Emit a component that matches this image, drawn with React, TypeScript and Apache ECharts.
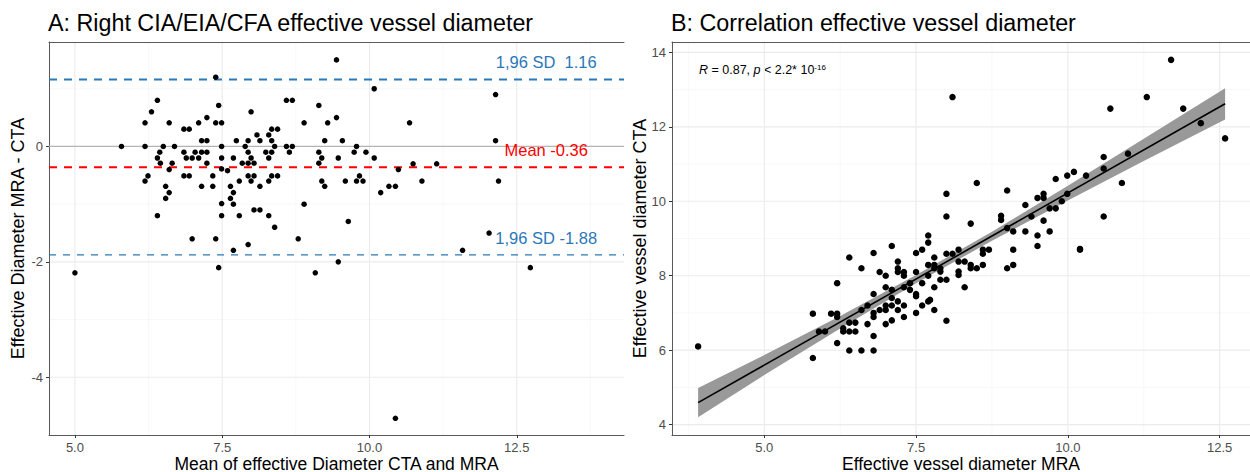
import React, { useEffect, useRef } from "react";
import * as echarts from "echarts";

// ---------- Panel A: Bland-Altman ----------
const meanVals = [
  5.79, 6.19, 6.19, 6.19, 6.24, 6.3, 6.4, 6.4, 6.44, 6.45, 6.5, 6.54, 6.54, 6.6, 6.6, 6.6, 6.65, 6.69, 6.4, 6.85,
  6.94, 6.85, 6.89, 6.85, 6.94, 6.99, 7.04, 7.1, 7.1, 7.15, 7.15, 7.15, 7.24, 7.24, 7.24, 7.24, 7.34, 7.34, 7.39, 7.39,
  7.44, 7.49, 7.49, 7.49, 7.49, 7.49, 7.49, 7.59, 7.64, 7.64, 7.69, 7.69, 7.69, 7.74, 7.79, 7.79, 7.84, 7.89, 7.94, 7.94,
  7.94, 7.94, 7.99, 7.99, 7.99, 8.04, 8.04, 8.04, 8.09, 8.14, 8.14, 8.14, 8.24, 8.29, 8.29, 8.29, 8.29, 8.34, 8.34, 8.34,
  8.34, 8.39, 8.39, 8.44, 8.44, 8.59, 8.69, 8.59, 8.69, 8.64, 8.89, 8.89, 9.14, 9.14, 9.14, 9.19, 9.19, 9.24, 9.24, 9.29,
  9.44, 9.44, 9.47, 6.99, 7.39, 8.79, 7.69, 7.94, 7.44, 5.0, 9.08, 9.47, 9.54, 10.08, 9.78, 9.74, 9.94, 10.08, 9.83, 9.78,
  9.89, 9.59, 10.19, 10.33, 10.44, 10.49, 10.68, 10.74, 10.89, 11.14, 12.14, 12.14, 12.19, 9.64, 12.03, 11.58, 12.73, 10.44,
];
const diffVals = [
  0.0, 0.0, 0.41, -0.6, -0.51, 0.6, 0.8, -0.2, -0.1, -0.29, 0.0, -0.69, -0.9, -0.8, 0.41, -0.4, -0.29, 0.0, -1.2, 0.3,
  0.3, -0.1, -0.2, -0.51, -0.51, -0.2, -0.1, 0.41, -0.2, 0.1, -0.1, -0.69, 0.1, 0.5, -0.1, -0.29, -0.51, -0.69, 0.41, 1.2,
  0.71, 0.41, 0.0, -0.2, -0.39, -0.99, -1.2, -0.42, -0.69, -0.9, -0.8, -1.0, -0.2, 0.1, -0.6, -1.2, -0.29, 0.0, 0.1, -0.1,
  -0.29, -0.51, 0.6, -0.2, -0.6, -0.29, -0.51, -1.1, 0.2, 0.1, -0.69, -1.1, -0.1, 0.2, -0.2, -0.6, -1.2, 0.3, 0.1, -0.1,
  -0.51, 0.0, -1.4, 0.3, -0.51, 0.8, 0.8, 0.0, 0.0, -0.1, 0.41, -1.0, 0.71, -0.1, -0.29, -0.2, -0.6, -0.69, 0.1, 0.41,
  0.5, 1.5, -0.2, -1.6, -1.6, -1.6, -1.8, -1.7, -2.1, -2.19, -2.19, -2.0, 0.1, 1.0, 0.0, -0.1, -0.1, -0.2, -0.51, -0.6,
  -0.6, -0.6, -0.8, -0.69, -0.69, -0.4, 0.41, -0.3, -0.6, -0.3, 0.9, 0.1, -0.6, -1.3, -1.5, -1.8, -2.1, -4.71,
];
const limitValues = [1.16, -0.36, -1.88];
const limitLabels = ["1,96 SD  1.16", "Mean -0.36", "1,96 SD -1.88"];
const aXTicks = [5, 7.5, 10, 12.5];
const aXMinor = [6.25, 8.75, 11.25, 13.75];
const aYTicks = [-4, -2, 0];
const aYMinor = [-3, -1, 1];

// ---------- Panel B: correlation ----------
const mraVals = [
  3.91, 5.8, 5.8, 5.9, 6.0, 6.1, 6.2, 6.2, 6.2, 6.2, 6.3, 6.3, 6.4, 6.4, 6.4, 6.4, 6.5, 6.5, 6.6, 6.6,
  6.6, 6.7, 6.7, 6.8, 6.8, 6.8, 6.8, 6.8, 6.8, 6.9, 6.9, 7.0, 7.0, 7.0, 7.0, 7.0, 7.1, 7.1, 7.1, 7.1,
  7.1, 7.2, 7.2, 7.2, 7.2, 7.2, 7.3, 7.3, 7.3, 7.3, 7.3, 7.4, 7.4, 7.5, 7.5, 7.5, 7.5, 7.5, 7.6, 7.6,
  7.6, 7.7, 7.7, 7.7, 7.7, 7.7, 7.8, 7.8, 7.8, 7.8, 7.8, 7.9, 7.9, 7.9, 8.0, 8.0, 8.0, 8.1, 8.2, 8.2,
  8.2, 8.2, 8.3, 8.3, 8.4, 8.4, 8.5, 8.6, 8.6, 8.6, 8.7, 9.0, 9.1, 9.1, 9.5, 10.2, 10.2, 7.73, 8.0, 8.0,
  8.1, 8.4, 8.5, 8.9, 8.9, 9.0, 9.0, 9.1, 9.3, 9.3, 9.4, 9.5, 9.5, 9.6, 9.6, 9.6, 9.7, 9.7, 9.8, 9.8,
  9.9, 9.99, 9.99, 10.1, 10.3, 10.59, 10.59, 10.59, 10.7, 10.89, 10.99, 11.3, 11.7, 11.9, 12.19, 12.59,
];
const ctaVals = [
  6.1, 6.98, 5.79, 6.5, 6.5, 6.98, 7.8, 6.98, 6.89, 6.19, 6.59, 6.5, 8.49, 6.74, 6.5, 5.99, 6.74, 6.5, 8.2, 7.08,
  5.99, 7.2, 6.7, 8.61, 7.51, 7.0, 6.89, 6.38, 5.99, 8.1, 7.08, 8.0, 7.69, 7.2, 7.08, 6.7, 8.8, 7.62, 7.4, 7.2,
  6.8, 8.38, 8.2, 8.1, 7.31, 7.08, 8.1, 8.0, 7.69, 7.2, 6.89, 7.8, 7.62, 8.61, 8.1, 7.51, 7.45, 7.0, 8.7, 7.8,
  7.2, 9.08, 8.89, 8.29, 8.0, 7.31, 8.49, 8.29, 7.69, 7.08, 8.2, 8.2, 8.11, 7.89, 8.59, 7.89, 6.79, 8.59, 8.7, 8.38,
  8.11, 8.02, 8.38, 7.69, 8.29, 8.2, 8.2, 8.7, 8.59, 8.29, 8.7, 8.2, 8.29, 8.7, 8.8, 8.7, 8.72, 7.35, 9.59, 10.2,
  12.8, 9.4, 10.49, 9.61, 9.5, 10.29, 9.28, 9.19, 9.19, 9.9, 9.59, 9.08, 10.09, 10.2, 10.09, 9.48, 9.81, 9.19, 9.81, 10.6,
  10.0, 10.69, 10.2, 10.79, 10.69, 11.19, 10.88, 9.59, 12.49, 10.49, 11.28, 12.8, 13.8, 12.49, 12.1, 11.69,
];
const fitX = [3.91, 12.59];
const fitY = [4.59, 12.62];
const bandX = [3.91, 5.0, 6.25, 7.5, 8.75, 10.0, 11.25, 12.59];
const bandLow = [4.2, 5.33, 6.58, 7.8, 8.94, 10.02, 11.08, 12.2];
const bandHigh = [4.98, 5.87, 6.92, 8.02, 9.18, 10.42, 11.68, 13.04];
const bXTicks = [5, 7.5, 10, 12.5];
const bXMinor = [3.75, 6.25, 8.75, 11.25];
const bYTicks = [4, 6, 8, 10, 12, 14];
const bYMinor = [5, 7, 9, 11, 13];

const FONT = "'Liberation Sans', Arial, Helvetica, sans-serif";
const BLUE = "#2b78b6";
const RED = "#ff0000";
const AX = { xMin: 4.56, xMax: 14.32, yMin: -5.0, yMax: 1.81 };
const BX = { xMin: 3.48, xMax: 13.0, yMin: 3.72, yMax: 14.28 };

function gridLines(xi: number, vals: number[], vertical: boolean, ext: any, color: string, width: number) {
  return {
    type: "custom",
    xAxisIndex: xi,
    yAxisIndex: xi === 0 ? 0 : 1,
    silent: true,
    z: 0,
    data: vals.map((v) => [v, v]),
    renderItem: (params: any, api: any) => {
      const v = api.value(0);
      const p1 = vertical ? api.coord([v, ext.yMin]) : api.coord([ext.xMin, v]);
      const p2 = vertical ? api.coord([v, ext.yMax]) : api.coord([ext.xMax, v]);
      return {
        type: "line",
        shape: { x1: p1[0], y1: p1[1], x2: p2[0], y2: p2[1] },
        style: { stroke: color, lineWidth: width },
      };
    },
  };
}

function hLine(v: number, color: string, width: number, type: any, z: number) {
  return {
    type: "line",
    xAxisIndex: 0,
    yAxisIndex: 0,
    silent: true,
    z,
    showSymbol: false,
    symbol: "none",
    data: [
      [AX.xMin, v],
      [AX.xMax, v],
    ],
    lineStyle: { color, width, type, opacity: 1 },
  };
}

const tickLabel = { color: "#4d4d4d", fontSize: 13, fontFamily: FONT };

function baseX(grid: number, ext: any, ticks: number[], name: string) {
  return {
    type: "value",
    gridIndex: grid,
    min: ext.xMin,
    max: ext.xMax,
    name,
    nameLocation: "middle",
    nameGap: 19.5,
    nameMoveOverlap: false,
    nameTextStyle: { color: "#000", fontSize: 17.5, fontFamily: FONT },
    axisLine: { show: true, onZero: false, lineStyle: { color: "#5a5a5a", width: 1 } },
    axisTick: { show: true, length: 3, customValues: ticks, lineStyle: { color: "#333" } },
    axisLabel: { ...tickLabel, margin: 6, customValues: ticks, formatter: (v: number) => v.toFixed(1) },
    splitLine: { show: false },
  };
}
function topX(grid: number, ext: any) {
  return {
    type: "value",
    gridIndex: grid,
    position: "top",
    min: ext.xMin,
    max: ext.xMax,
    axisLine: { show: true, onZero: false, lineStyle: { color: "#5a5a5a", width: 1 } },
    axisTick: { show: false },
    axisLabel: { show: false },
    splitLine: { show: false },
  };
}
function baseY(grid: number, ext: any, ticks: number[], name: string, gap: number) {
  return {
    type: "value",
    gridIndex: grid,
    min: ext.yMin,
    max: ext.yMax,
    name,
    nameLocation: "middle",
    nameGap: gap,
    nameRotate: 90,
    nameMoveOverlap: false,
    nameTextStyle: { color: "#000", fontSize: 18, fontFamily: FONT },
    axisLine: { show: true, onZero: false, lineStyle: { color: "#5a5a5a", width: 1 } },
    axisTick: { show: true, length: 3, customValues: ticks, lineStyle: { color: "#333" } },
    axisLabel: { ...tickLabel, margin: 6, customValues: ticks, formatter: (v: number) => String(v) },
    splitLine: { show: false },
  };
}

export default function App() {
  const ref = useRef<HTMLDivElement>(null);
  useEffect(() => {
    if (!ref.current) return;
    const chart = echarts.init(ref.current, undefined, { renderer: "svg" });
    const scatterA = meanVals.map((x, i) => [x, diffVals[i]]);
    const scatterB = mraVals.map((x, i) => [x, ctaVals[i]]);
    const limitColors = [BLUE, RED, BLUE];
    const titleStyle = { fontSize: 23.3, fontWeight: "normal", color: "#000", fontFamily: FONT };
    const option: any = {
      animation: false,
      backgroundColor: "#ffffff",
      textStyle: { fontFamily: FONT },
      title: [
        { text: "A: Right CIA/EIA/CFA effective vessel diameter", left: 48, top: 11, padding: 0, textStyle: titleStyle },
        { text: "B: Correlation effective vessel diameter", left: 671, top: 11, padding: 0, textStyle: titleStyle },
      ],
      grid: [
        { left: 49, top: 42, width: 575, height: 393, containLabel: false, outerBoundsMode: "none" },
        { left: 672, top: 42, width: 578, height: 393, containLabel: false, outerBoundsMode: "none" },
      ],
      xAxis: [
        baseX(0, AX, aXTicks, "Mean of effective Diameter CTA and MRA"),
        topX(0, AX),
        baseX(1, BX, bXTicks, "Effective vessel diameter MRA"),
        topX(1, BX),
      ],
      yAxis: [
        baseY(0, AX, aYTicks, "Effective Diameter MRA - CTA", 22),
        baseY(1, BX, bYTicks, "Effective vessel diameter CTA", 23),
      ],
      graphic: [
        {
          type: "text",
          left: 699,
          top: 63,
          style: {
            text: "{i|R} = 0.87, {i|p} < 2.2* 10{s|-16}",
            fill: "#000",
            fontFamily: FONT,
            fontSize: 12.5,
            rich: {
              i: { fontStyle: "italic", fontSize: 12.5, fontFamily: FONT, fill: "#000" },
              s: { fontSize: 8, fontFamily: FONT, fill: "#000", verticalAlign: "top", padding: [0, 0, 6, 0] },
            },
          },
        },
      ],
      series: [
        gridLines(0, aXMinor, true, AX, "#f3f3f3", 0.6),
        gridLines(0, aYMinor, false, AX, "#f3f3f3", 0.6),
        gridLines(0, aXTicks, true, AX, "#ebebeb", 1.1),
        gridLines(0, aYTicks, false, AX, "#ebebeb", 1.1),
        gridLines(2, bXMinor, true, BX, "#f3f3f3", 0.6),
        gridLines(2, bYMinor, false, BX, "#f3f3f3", 0.6),
        gridLines(2, bXTicks, true, BX, "#ebebeb", 1.1),
        gridLines(2, bYTicks, false, BX, "#ebebeb", 1.1),
        hLine(0, "#b4b4b4", 1.2, "solid", 1),
        hLine(limitValues[0], BLUE, 2, [8, 7], 2),
        hLine(limitValues[1], RED, 2, [8, 7], 2),
        hLine(limitValues[2], BLUE, 1.3, [7, 7], 2),
        {
          type: "scatter",
          xAxisIndex: 0,
          yAxisIndex: 0,
          z: 3,
          silent: true,
          symbolSize: 5,
          itemStyle: { color: "rgba(0,0,0,0)", opacity: 1 },
          data: limitValues.map((v, i) => ({
            value: [13.0, v + 0.3],
            label: {
              show: true,
              position: "inside",
              formatter: limitLabels[i],
              color: limitColors[i],
              opacity: 1,
              fontSize: 16.5,
              fontFamily: FONT,
            },
          })),
        },
        {
          type: "scatter",
          xAxisIndex: 0,
          yAxisIndex: 0,
          z: 4,
          symbolSize: 5.5,
          itemStyle: { color: "#000", opacity: 1 },
          data: scatterA,
        },
        {
          type: "custom",
          xAxisIndex: 2,
          yAxisIndex: 1,
          z: 1,
          silent: true,
          data: bandX.map((x, i) => [x, bandLow[i], bandHigh[i]]),
          encode: { x: 0, y: [1, 2] },
          renderItem: (params: any, api: any) => {
            if (params.dataIndex !== 0) return null;
            const upper = bandX.map((x, i) => api.coord([x, bandHigh[i]]));
            const lower = bandX.map((x, i) => api.coord([x, bandLow[i]])).reverse();
            return {
              type: "polygon",
              shape: { points: upper.concat(lower) },
              style: { fill: "#999999" },
            };
          },
        },
        {
          type: "line",
          xAxisIndex: 2,
          yAxisIndex: 1,
          z: 2,
          silent: true,
          showSymbol: false,
          symbol: "none",
          data: fitX.map((x, i) => [x, fitY[i]]),
          lineStyle: { color: "#000", width: 1.6 },
        },
        {
          type: "scatter",
          xAxisIndex: 2,
          yAxisIndex: 1,
          z: 4,
          symbolSize: 6.5,
          itemStyle: { color: "#000", opacity: 1 },
          data: scatterB,
        },
      ],
    };
    chart.setOption(option);
    return () => chart.dispose();
  }, []);
  return (
    <div
      ref={ref}
      style={{ position: "fixed", left: 0, top: 0, width: 1250, height: 472, background: "#fff" }}
    />
  );
}
